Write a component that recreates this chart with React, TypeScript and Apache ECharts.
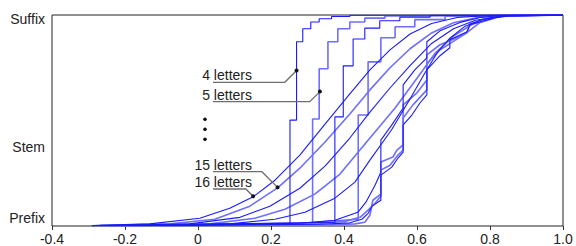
import React, { useEffect, useRef } from "react";
import * as echarts from "echarts";

// x tick labels and y category labels
const xTickLabels = ["-0.4", "-0.2", "0", "0.2", "0.4", "0.6", "0.8", "1.0"];
const yLevelValues = [0.037, 0.374, 0.982];
const yLevelLabels = ["Prefix", "Stem", "Suffix"];

// curves (x, y) per word length
const c4 = [[-0.291,0.002],[0.142,0.007],[0.252,0.010],[0.252,0.502],[0.270,0.502],[0.270,0.873],[0.287,0.873],[0.287,0.935],[0.309,0.935],[0.309,0.967],[0.332,0.967],[0.332,0.982],[0.366,0.982],[0.366,0.993],[0.416,0.993],[0.416,0.999],[1.0,1.0]];
const c5 = [[-0.269,0.002],[0.314,0.013],[0.314,0.507],[0.332,0.507],[0.332,0.745],[0.356,0.745],[0.356,0.873],[0.383,0.873],[0.383,0.935],[0.416,0.935],[0.416,0.967],[0.457,0.967],[0.457,0.985],[0.512,0.985],[0.512,0.995],[0.608,0.995],[1.0,1.0]];
const c6 = [[-0.242,0.002],[0.375,0.018],[0.375,0.517],[0.398,0.517],[0.398,0.759],[0.425,0.759],[0.425,0.886],[0.457,0.886],[0.457,0.938],[0.498,0.938],[0.498,0.973],[0.553,0.973],[0.553,0.990],[0.636,0.990],[0.636,0.998],[1.0,1.0]];
const c7 = [[-0.214,0.002],[0.279,0.013],[0.439,0.032],[0.439,0.526],[0.466,0.526],[0.466,0.778],[0.501,0.778],[0.501,0.892],[0.540,0.892],[0.540,0.944],[0.594,0.944],[0.594,0.978],[0.677,0.978],[0.677,0.994],[0.773,0.994],[1.0,1.0]];
const c8 = [[-0.160,0.002],[0.279,0.013],[0.375,0.027],[0.438,0.065],[0.460,0.113],[0.485,0.193],[0.501,0.255],[0.501,0.407],[0.531,0.479],[0.562,0.559],[0.562,0.669],[0.594,0.740],[0.627,0.797],[0.627,0.873],[0.663,0.925],[0.718,0.965],[0.773,0.988],[0.830,0.998],[1,1]];
const c9 = [[-0.132,0.002],[0.307,0.010],[0.403,0.022],[0.444,0.041],[0.466,0.075],[0.485,0.108],[0.501,0.141],[0.501,0.265],[0.526,0.288],[0.548,0.336],[0.562,0.360],[0.562,0.512],[0.589,0.574],[0.627,0.645],[0.627,0.769],[0.663,0.835],[0.690,0.864],[0.732,0.911],[0.773,0.965],[0.830,0.994],[1,1]];
const c10 = [[-0.105,0.002],[0.334,0.008],[0.416,0.015],[0.449,0.032],[0.466,0.060],[0.477,0.094],[0.501,0.122],[0.501,0.241],[0.531,0.279],[0.548,0.322],[0.562,0.350],[0.562,0.479],[0.586,0.526],[0.608,0.583],[0.627,0.621],[0.627,0.740],[0.663,0.807],[0.690,0.845],[0.690,0.883],[0.737,0.921],[0.745,0.954],[0.814,0.987],[0.860,0.998],[1,1]];
const c11 = [[-0.077,0.002],[0.361,0.006],[0.430,0.010],[0.457,0.018],[0.471,0.051],[0.479,0.122],[0.501,0.151],[0.501,0.303],[0.534,0.327],[0.545,0.360],[0.562,0.384],[0.562,0.574],[0.600,0.631],[0.627,0.692],[0.627,0.811],[0.663,0.859],[0.690,0.878],[0.737,0.916],[0.745,0.959],[0.814,0.992],[0.880,0.999],[1,1]];
const c12 = [[-0.187,0.002],[0.087,0.010],[0.211,0.032],[0.293,0.065],[0.375,0.132],[0.430,0.208],[0.471,0.312],[0.530,0.455],[0.580,0.600],[0.620,0.720],[0.655,0.820],[0.690,0.890],[0.730,0.945],[0.780,0.980],[0.840,0.996],[1.0,1.0]];
const c13 = [[-0.214,0.002],[0.032,0.010],[0.156,0.037],[0.238,0.079],[0.320,0.151],[0.389,0.246],[0.471,0.417],[0.540,0.559],[0.600,0.700],[0.650,0.820],[0.700,0.900],[0.750,0.955],[0.810,0.988],[0.870,0.998],[1.0,1.0]];
const c14 = [[-0.242,0.002],[-0.022,0.010],[0.115,0.041],[0.197,0.094],[0.279,0.179],[0.348,0.284],[0.416,0.417],[0.471,0.540],[0.526,0.654],[0.581,0.760],[0.640,0.865],[0.700,0.935],[0.760,0.975],[0.830,0.994],[1.0,1.0]];
const c15 = [[-0.269,0.002],[-0.077,0.010],[0.046,0.032],[0.142,0.094],[0.218,0.181],[0.279,0.274],[0.348,0.398],[0.416,0.531],[0.471,0.645],[0.526,0.750],[0.581,0.840],[0.640,0.915],[0.700,0.963],[0.770,0.989],[0.850,0.998],[1.0,1.0]];
const c16 = [[-0.291,0.002],[-0.132,0.010],[0.005,0.037],[0.087,0.084],[0.150,0.137],[0.211,0.217],[0.279,0.336],[0.348,0.483],[0.416,0.626],[0.471,0.740],[0.526,0.835],[0.581,0.910],[0.640,0.960],[0.710,0.988],[0.800,0.998],[1.0,1.0]];

const curveNames = ["4", "5", "6", "7", "8", "9", "10", "11", "12", "13", "14", "15", "16"];
const curves = [c4, c5, c6, c7, c8, c9, c10, c11, c12, c13, c14, c15, c16];

// annotation labels and the curve points they point at
const annoTexts = ["4 letters", "5 letters", "15 letters", "16 letters"];
const annoAnchors = [[0.270, 0.737], [0.334, 0.637], [0.218, 0.183], [0.151, 0.141]];
const annoUnderlineY = [82.3, 101.7, 171.7, 189];

const DARK = "#1a1aff";
const LIGHT = "#6e6eff";
const FONT = "'Liberation Sans', Arial, sans-serif";

export default function App() {
  const ref = useRef<HTMLDivElement>(null);
  useEffect(() => {
    document.body.style.margin = "0";
    const chart = echarts.init(ref.current!, null, { renderer: "svg" });
    const series = curves.map((data, i) => ({
      name: curveNames[i] + " letters",
      type: "line",
      data,
      showSymbol: false,
      silent: true,
      lineStyle: {
        color: i % 2 === 0 ? DARK : LIGHT,
        width: i % 2 === 0 ? 1.1 : 1.6,
      },
      z: i % 2 === 0 ? 3 : 2,
    }));
    chart.setOption({
      animation: false,
      grid: { left: 52, top: 15, right: 13, bottom: 20, show: true, borderColor: "#222", borderWidth: 1, backgroundColor: "transparent" },
      xAxis: {
        type: "value",
        min: -0.4,
        max: 1.0,
        interval: 0.2,
        splitLine: { show: false },
        axisLine: { show: false },
        axisTick: { show: true, length: 4, lineStyle: { color: "#333" } },
        axisLabel: {
          showMinLabel: true,
          showMaxLabel: true,
          margin: 6,
          color: "#222",
          fontSize: 14,
          fontFamily: FONT,
          formatter: (v: number) => xTickLabels[Math.round((v + 0.4) / 0.2)],
        },
      },
      yAxis: {
        type: "value",
        min: 0,
        max: 1,
        splitLine: { show: false },
        axisLine: { show: false },
        axisTick: { show: false },
        axisLabel: {
          customValues: yLevelValues,
          margin: 7,
          color: "#222",
          fontSize: 14,
          fontFamily: FONT,
          formatter: (v: number) => {
            const idx = yLevelValues.findIndex((x) => Math.abs(x - v) < 1e-6);
            return idx >= 0 ? yLevelLabels[idx] : "";
          },
        },
      },
      series,
    });

    const graphic: any[] = [];
    annoTexts.forEach((t, i) => {
      const [ax, ay] = chart.convertToPixel({ gridIndex: 0 }, annoAnchors[i]) as number[];
      const uy = annoUnderlineY[i];
      const ex = ax - Math.abs(ay - uy);
      graphic.push({
        type: "polyline",
        shape: { points: [[213, uy], [ex, uy], [ax, ay]] },
        style: { stroke: "#6d6d6d", lineWidth: 1.3, fill: null },
        z: 10,
      });
      graphic.push({
        type: "circle",
        shape: { cx: ax, cy: ay, r: 2 },
        style: { fill: "#111" },
        z: 11,
      });
      graphic.push({
        type: "text",
        x: 252,
        y: uy - 7,
        style: { text: t, font: `14px ${FONT}`, fill: "#222", align: "right", verticalAlign: "middle" },
        z: 11,
      });
    });
    [119.3, 129.3, 139.3].forEach((cy) =>
      graphic.push({ type: "circle", shape: { cx: 205, cy, r: 1.8 }, style: { fill: "#111" }, z: 11 })
    );
    chart.setOption({ graphic });
    return () => chart.dispose();
  }, []);
  return <div ref={ref} style={{ width: 576, height: 246 }} />;
}
